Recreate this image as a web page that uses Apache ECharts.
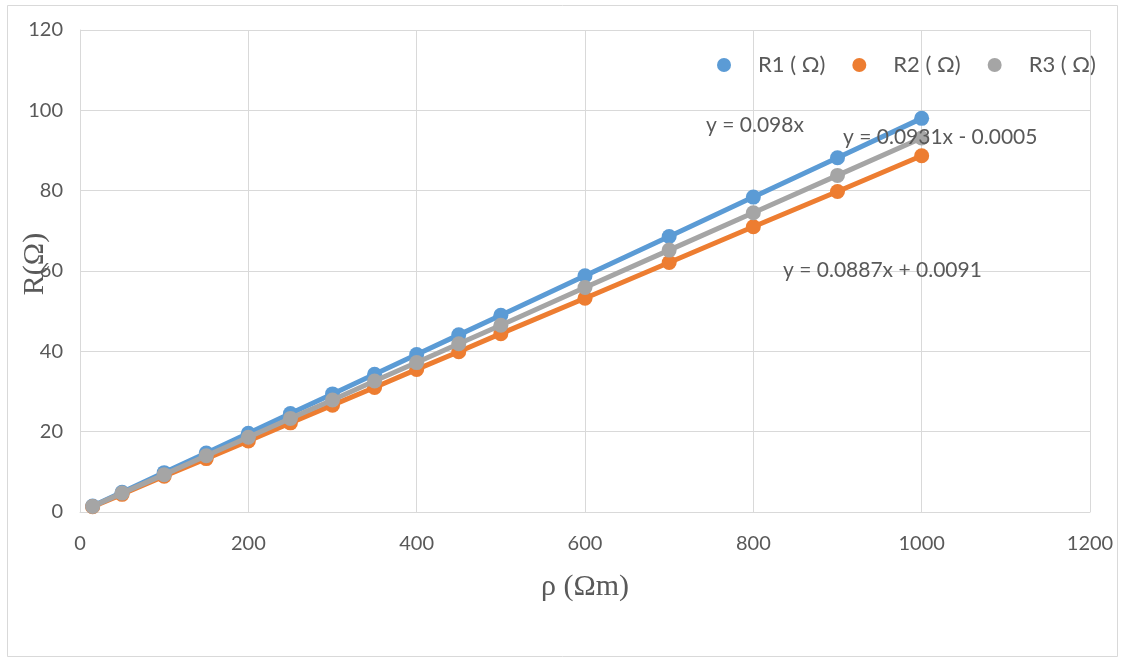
<!DOCTYPE html>
<html>
<head>
<meta charset="utf-8">
<script src="https://cdn.jsdelivr.net/npm/echarts@6/dist/echarts.min.js"></script>
<style>
  html, body { margin: 0; padding: 0; background: #ffffff; }
  #chart { width: 1121px; height: 658px; }
</style>
</head>
<body>
<div id="chart"></div>
<script>
// Resistivity (Ωm) values and measured resistances for three configurations
const rho = [15, 50, 100, 150, 200, 250, 300, 350, 400, 450, 500, 600, 700, 800, 900, 1000];
const r1 = [1.5, 4.9, 9.8, 14.7, 19.6, 24.5, 29.4, 34.3, 39.2, 44.1, 49.0, 58.8, 68.6, 78.4, 88.2, 98.0];
const r2 = [1.3, 4.4, 8.9, 13.3, 17.7, 22.2, 26.6, 31.0, 35.5, 39.9, 44.4, 53.2, 62.1, 71.0, 79.8, 88.7];
const r3 = [1.4, 4.7, 9.3, 14.0, 18.6, 23.3, 27.9, 32.6, 37.2, 41.9, 46.5, 55.9, 65.2, 74.5, 83.8, 93.1];
const seriesNames = ['R1 ( Ω)', 'R2 ( Ω)', 'R3 ( Ω)'];
const colors = ['#5B9BD5', '#ED7D31', '#A5A5A5'];
const trendLabels = ['y = 0.098x', 'y = 0.0887x + 0.0091', 'y = 0.0931x - 0.0005'];

const textColor = '#595959';
const gridColor = '#D9D9D9';
const uiFont = 'Lato, "Open Sans", sans-serif';
const serifFont = '"Liberation Serif", "DejaVu Serif", serif';

const pairs = (ys) => rho.map((x, i) => [x, ys[i]]);

const chart = echarts.init(document.getElementById('chart'));

const lineSeries = [r1, r2, r3].map((ys, i) => ({
  name: seriesNames[i],
  type: 'line',
  data: pairs(ys),
  symbol: 'circle',
  symbolSize: 15,
  showAllSymbol: true,
  lineStyle: { width: 5, color: colors[i] },
  itemStyle: { color: colors[i] },
  emphasis: { disabled: true },
  z: 2 + i
}));

chart.setOption({
  backgroundColor: '#ffffff',
  animation: false,
  color: colors,
  grid: { left: 80, right: 31, top: 30, bottom: 146, containLabel: false },
  legend: {
    data: seriesNames,
    left: 712,
    top: 49,
    icon: 'circle',
    itemWidth: 14,
    itemHeight: 14,
    itemGap: 27,
    textStyle: { color: textColor, fontFamily: uiFont, fontSize: 22, padding: [0, 0, 0, 22] }
  },
  xAxis: {
    type: 'value',
    min: 0,
    max: 1200,
    interval: 200,
    name: 'ρ (Ωm)',
    nameLocation: 'middle',
    nameGap: 60,
    nameTextStyle: { color: textColor, fontFamily: serifFont, fontSize: 30 },
    axisLine: { show: true, lineStyle: { color: gridColor, width: 1 } },
    axisTick: { show: false },
    axisLabel: { color: textColor, fontFamily: uiFont, fontSize: 20, margin: 22, formatter: (v) => String(v) },
    splitLine: { show: true, lineStyle: { color: gridColor, width: 1 } }
  },
  yAxis: {
    type: 'value',
    min: 0,
    max: 120,
    interval: 20,
    axisLine: { show: true, lineStyle: { color: gridColor, width: 1 } },
    axisTick: { show: false },
    axisLabel: { color: textColor, fontFamily: uiFont, fontSize: 20, margin: 17, formatter: (v) => String(v) },
    splitLine: { show: true, lineStyle: { color: gridColor, width: 1 } }
  },
  graphic: [
    {
      type: 'rect',
      shape: { x: 7.5, y: 5.5, width: 1110, height: 651 },
      style: { fill: 'none', stroke: gridColor, lineWidth: 1 },
      silent: true,
      z: -10
    },
    {
      type: 'text',
      x: 35, y: 264,
      rotation: Math.PI / 2,
      style: { text: 'R(Ω)', fill: textColor, font: '30px ' + serifFont, align: 'center', verticalAlign: 'middle' },
      silent: true
    },
    {
      type: 'text', x: 706, y: 125,
      style: { text: trendLabels[0], fill: textColor, font: '21px ' + uiFont, align: 'left', verticalAlign: 'middle' },
      silent: true, z: 10
    },
    {
      type: 'text', x: 783, y: 270,
      style: { text: trendLabels[1], fill: textColor, font: '21px ' + uiFont, align: 'left', verticalAlign: 'middle' },
      silent: true, z: 10
    },
    {
      type: 'text', x: 843, y: 137,
      style: { text: trendLabels[2], fill: textColor, font: '21px ' + uiFont, align: 'left', verticalAlign: 'middle' },
      silent: true, z: 10
    }
  ],
  series: lineSeries
});
</script>
</body>
</html>
